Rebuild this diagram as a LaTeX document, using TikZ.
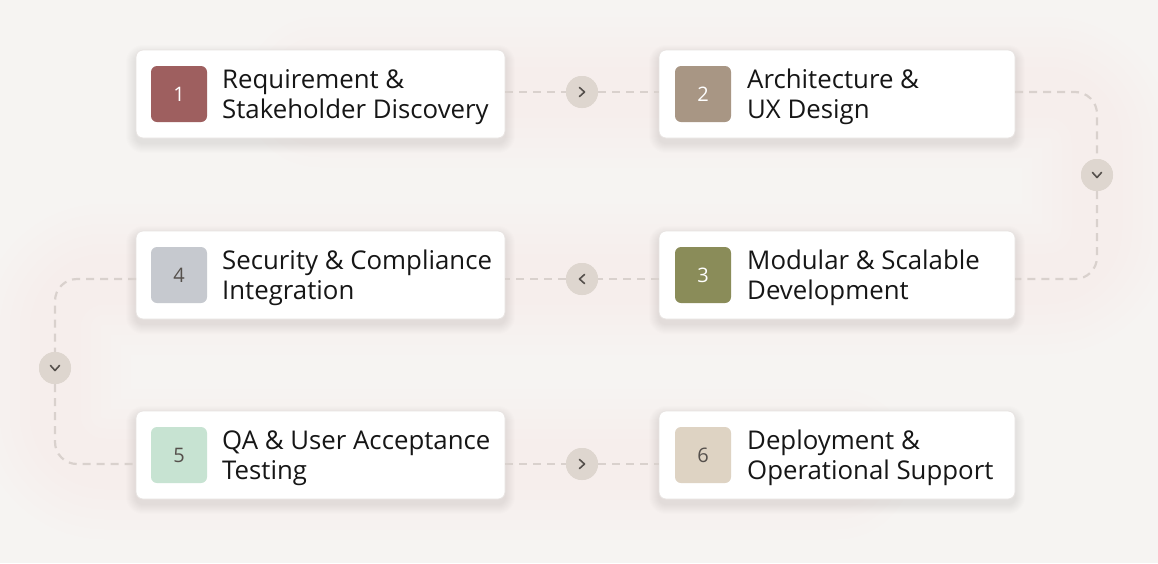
\documentclass[tikz,border=0pt]{standalone}
\usepackage{fontspec}
\setmainfont{Open Sans}
\usetikzlibrary{calc}
\definecolor{bg}{HTML}{F6F4F2}
\definecolor{glow}{HTML}{F9EAE8}
\definecolor{cardline}{HTML}{E8E4E2}
\definecolor{dashc}{HTML}{D9D1CD}
\definecolor{circ}{HTML}{DED6CF}
\definecolor{chev}{HTML}{55504C}
\definecolor{sqA}{HTML}{9E5F5F}
\definecolor{sqB}{HTML}{A89684}
\definecolor{sqC}{HTML}{8A8C59}
\definecolor{sqD}{HTML}{C6C9CF}
\definecolor{sqE}{HTML}{C7E3D2}
\definecolor{sqF}{HTML}{DED3C3}
\definecolor{txt}{HTML}{161616}
\tikzset{
  card/.style={draw=cardline, line width=0.8pt, fill=white, rounded corners=7pt,
    minimum height=88pt, inner sep=0pt},
  wide/.style={card, minimum width=369pt},
  narrow/.style={card, minimum width=356pt},
  numsq/.style={rounded corners=6pt, minimum width=56pt, minimum height=56pt, inner sep=0pt,
    font=\fontsize{20}{20}\selectfont},
  lbl/.style={anchor=west, align=left, text=txt, inner sep=0pt,
    font=\fontsize{25.8}{30}\selectfont},
  conn/.style={draw=dashc, line width=2.2pt, dash pattern=on 8pt off 6pt, rounded corners=22pt},
  bubble/.style={circle, fill=circ, minimum size=32pt, inner sep=0pt},
  chevron/.style={draw=chev, line width=1.6pt, line cap=round, line join=round}
}
\begin{document}
\begin{tikzpicture}[x=1pt,y=-1pt]
\fill[bg] (0,0) rectangle (1158,563);
\useasboundingbox (0,0) rectangle (1158,563);
% very faint diffuse glow around the path
\foreach \lw in {150,130,110,90,70,50} {
\draw[glow, line width=\lw pt, opacity=0.09, line join=round, line cap=round, rounded corners=50pt]
  (320,92) -- (1097,92) -- (1097,279) -- (55,279) -- (55,464) -- (837,464);
}
% soft shadows under the cards
\foreach \cx/\cy/\w in {320.5/94/369, 837/94/356, 837/275/356, 320.5/275/369, 320.5/455/369, 837/455/356} {
  \foreach \s in {1,2,...,10} {
    \fill[black, opacity=0.008, rounded corners={7+\s}]
      ({\cx-\w/2-\s}, {\cy-44-\s+5}) rectangle ({\cx+\w/2+\s}, {\cy+44+\s+5});
  }
}

% cards
\node[wide]   (b1) at (320.5,94)  {};
\node[narrow] (b2) at (837,94)    {};
\node[narrow] (b3) at (837,275)   {};
\node[wide]   (b4) at (320.5,275) {};
\node[wide]   (b5) at (320.5,455) {};
\node[narrow] (b6) at (837,455)   {};

% connector anchor coordinates
\coordinate (r1a) at (505,92);  \coordinate (r1b) at (659,92);
\coordinate (r2a) at (659,279); \coordinate (r2b) at (505,279);
\coordinate (r3a) at (505,464); \coordinate (r3b) at (659,464);
\coordinate (e2)  at (1015,92); \coordinate (e3) at (1015,279);
\coordinate (w4)  at (136,279); \coordinate (w5) at (136,464);

\node[bubble] (k12) at (582,92)   {};
\node[bubble] (k23) at (1097,175) {};
\node[bubble] (k34) at (582,279)  {};
\node[bubble] (k45) at (55,368)   {};
\node[bubble] (k56) at (582,464)  {};

\draw[conn] (r1a) -- (k12.west);
\draw[conn] (k12.east) -- (r1b);
\draw[conn] (e2) -- (k23.north |- e2) -- (k23.north);
\draw[conn] (k23.south) -- (k23.south |- e3) -- (e3);
\draw[conn] (r2a) -- (k34.east);
\draw[conn] (k34.west) -- (r2b);
\draw[conn] (w4) -- (k45.north |- w4) -- (k45.north);
\draw[conn] (k45.south) -- (k45.south |- w5) -- (w5);
\draw[conn] (r3a) -- (k56.west);
\draw[conn] (k56.east) -- (r3b);

% redraw bubbles on top
\foreach \k in {k12,k23,k34,k45,k56} \fill[circ] (\k) circle (16pt);

% chevrons
\draw[chevron] ($(k12)+(-2.5,-4.5)$) -- ($(k12)+(2.5,0)$) -- ($(k12)+(-2.5,4.5)$);
\draw[chevron] ($(k56)+(-2.5,-4.5)$) -- ($(k56)+(2.5,0)$) -- ($(k56)+(-2.5,4.5)$);
\draw[chevron] ($(k34)+(2.5,-4.5)$) -- ($(k34)+(-2.5,0)$) -- ($(k34)+(2.5,4.5)$);
\draw[chevron] ($(k23)+(-4.5,-2.5)$) -- ($(k23)+(0,2.5)$) -- ($(k23)+(4.5,-2.5)$);
\draw[chevron] ($(k45)+(-4.5,-2.5)$) -- ($(k45)+(0,2.5)$) -- ($(k45)+(4.5,-2.5)$);

% number squares
\node[numsq, fill=sqA, text=white]   (n1) at (179,94)  {1};
\node[numsq, fill=sqB, text=white]   (n2) at (703,94)  {2};
\node[numsq, fill=sqC, text=white]   (n3) at (703,275) {3};
\node[numsq, fill=sqD, text=chev]    (n4) at (179,275) {4};
\node[numsq, fill=sqE, text=chev]    (n5) at (179,455) {5};
\node[numsq, fill=sqF, text=chev]    (n6) at (703,455) {6};

% labels
\node[lbl] (t1) at (222,97)  {Requirement \&\\Stakeholder Discovery};
\node[lbl] (t2) at (747,97)  {Architecture \&\\UX Design};
\node[lbl] (t3) at (747,278) {Modular \& Scalable\\Development};
\node[lbl] (t4) at (222,278) {Security \& Compliance\\Integration};
\node[lbl] (t5) at (222,458) {QA \& User Acceptance\\Testing};
\node[lbl] (t6) at (747,458) {Deployment \&\\Operational Support};
\end{tikzpicture}
\end{document}
